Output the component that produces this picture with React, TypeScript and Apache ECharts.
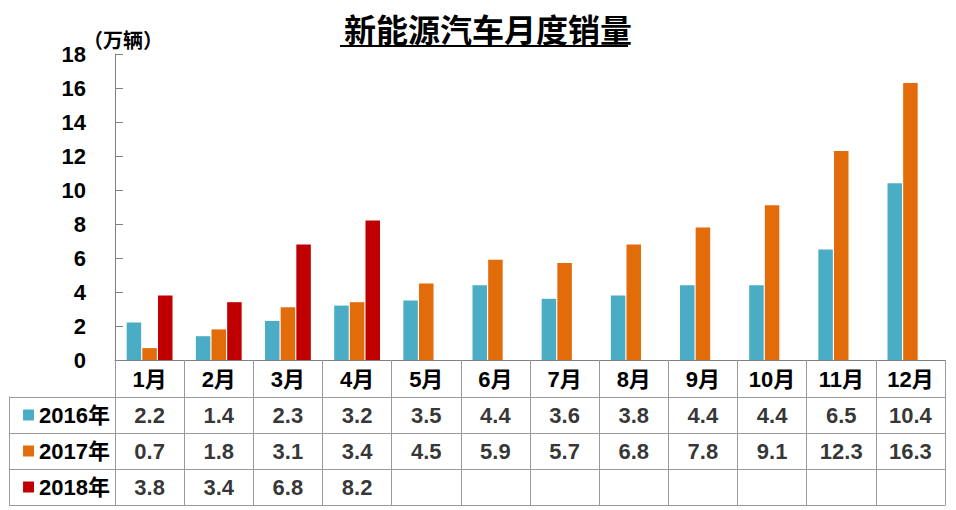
import React, { useEffect, useRef } from "react";
import * as echarts from "echarts";

const months = ["1月", "2月", "3月", "4月", "5月", "6月", "7月", "8月", "9月", "10月", "11月", "12月"];
const seriesNames = ["2016年", "2017年", "2018年"];
const sales2016 = [2.2, 1.4, 2.3, 3.2, 3.5, 4.4, 3.6, 3.8, 4.4, 4.4, 6.5, 10.4];
const sales2017 = [0.7, 1.8, 3.1, 3.4, 4.5, 5.9, 5.7, 6.8, 7.8, 9.1, 12.3, 16.3];
const sales2018 = [3.8, 3.4, 6.8, 8.2, null, null, null, null, null, null, null, null];
const colors = ["#4BACC6", "#E36C0A", "#C00000"];
const yTicks = { min: 0, max: 18, interval: 2 };

const FONT = '"Liberation Sans", Arial, "Noto Sans CJK SC", sans-serif';
const LINE = "#9A9A9A";
const FS = 22;

export default function App() {
  const ref = useRef<HTMLDivElement>(null);
  useEffect(() => {
    document.body.style.margin = "0";
    const chart = echarts.init(ref.current!, null, { renderer: "svg" });
    const allSeries = [sales2016, sales2017, sales2018];
    const tableData: any[] = [];
    allSeries.forEach((arr, r) => {
      arr.forEach((v, m) => {
        if (v !== null && v !== undefined) tableData.push([m, r, v]);
      });
    });
    const rich: any = {
      t: { fontSize: FS, fontWeight: "bold", color: "#000", fontFamily: FONT, padding: [0, 0, 0, 5] },
    };
    colors.forEach((c, i) => {
      rich["sq" + i] = { width: 11, height: 11, backgroundColor: c };
    });
    chart.setOption({
      animation: false,
      backgroundColor: "#fff",
      textStyle: { fontFamily: FONT },
      title: [
        {
          text: "新能源汽车月度销量",
          left: 339,
          top: 10,
          textStyle: { fontSize: 32, fontWeight: "bold", color: "#000", fontFamily: FONT },
        },
        {
          text: "（万辆）",
          left: 78,
          top: 24,
          textStyle: { fontSize: 20, fontWeight: "bold", color: "#000", fontFamily: '"Noto Sans CJK SC", sans-serif' },
        },
      ],
      graphic: [
        {
          type: "line",
          shape: { x1: 340, y1: 46, x2: 628, y2: 46 },
          style: { stroke: "#000", lineWidth: 2 },
        },
      ],
      grid: [
        { left: 115, right: 11, top: 54, bottom: 150 },
        { left: 115, right: 11, top: 397, bottom: 5 },
      ],
      xAxis: [
        {
          type: "category",
          gridIndex: 0,
          data: months,
          axisLine: { show: true, lineStyle: { color: "#808080", width: 1 } },
          axisTick: { show: true, length: 37, inside: false, lineStyle: { color: LINE } },
          axisLabel: { margin: 8, fontSize: FS, fontWeight: "bold", color: "#000", fontFamily: FONT },
          splitLine: { show: false },
        },
        {
          type: "category",
          gridIndex: 1,
          data: months,
          axisLine: { show: true, lineStyle: { color: LINE } },
          axisTick: { show: false },
          axisLabel: { show: false },
          splitLine: { show: true, interval: 0, lineStyle: { color: LINE, width: 1 } },
        },
      ],
      yAxis: [
        {
          type: "value",
          gridIndex: 0,
          min: yTicks.min,
          max: yTicks.max,
          interval: yTicks.interval,
          axisLine: { show: true, lineStyle: { color: "#808080" } },
          axisTick: { show: true, inside: true, length: 8, lineStyle: { color: "#808080" } },
          axisLabel: { margin: 29, fontSize: FS, fontWeight: "bold", color: "#000", fontFamily: FONT },
          splitLine: { show: false },
        },
        {
          type: "category",
          gridIndex: 1,
          inverse: true,
          data: seriesNames,
          axisLine: { show: true, lineStyle: { color: LINE } },
          axisTick: { show: true, length: 106, inside: false, lineStyle: { color: LINE } },
          axisLabel: {
            margin: 5,
            formatter: (v: string, i: number) => `{sq${i}|}{t|${v}}`,
            rich,
          },
          splitLine: { show: true, lineStyle: { color: LINE } },
        },
        {
          type: "category",
          gridIndex: 1,
          position: "left",
          offset: 106,
          inverse: true,
          data: seriesNames,
          axisLine: { show: true, lineStyle: { color: LINE } },
          axisTick: { show: false },
          axisLabel: { show: false },
          splitLine: { show: false },
        },
      ],
      series: [
        ...allSeries.map((arr, i) => ({
          name: seriesNames[i],
          type: "bar",
          xAxisIndex: 0,
          yAxisIndex: 0,
          data: arr,
          barWidth: 14.5,
          barGap: "8%",
          itemStyle: { color: colors[i] },
        })),
        {
          type: "scatter",
          xAxisIndex: 1,
          yAxisIndex: 1,
          data: tableData,
          symbolSize: 1,
          itemStyle: { color: "rgba(0,0,0,0)" },
          label: {
            show: true,
            position: "inside",
            formatter: (p: any) => Number(p.value[2]).toFixed(1),
            fontSize: FS,
            fontWeight: "bold",
            color: "#000",
            fontFamily: FONT,
          },
          silent: true,
        },
      ],
    });
    return () => chart.dispose();
  }, []);
  return <div ref={ref} style={{ width: 956, height: 510 }} />;
}
